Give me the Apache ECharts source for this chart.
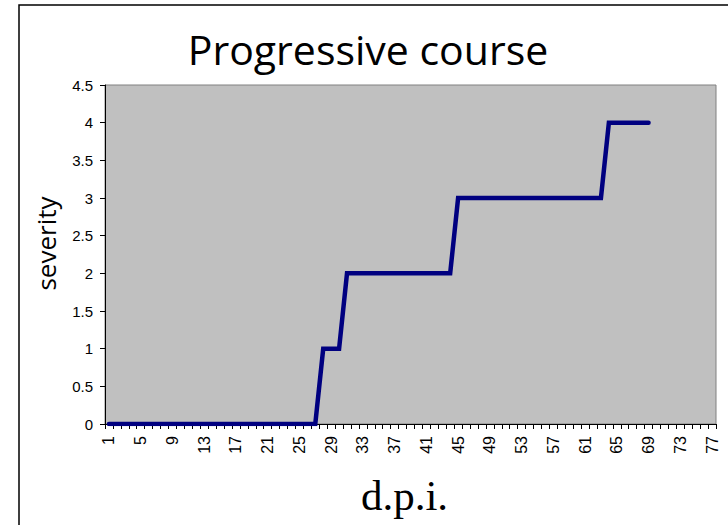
<!DOCTYPE html>
<html>
<head>
<meta charset="utf-8">
<script src="https://cdn.jsdelivr.net/npm/echarts@6/dist/echarts.min.js"></script>
<style>
  html, body { margin: 0; padding: 0; background: #fff; }
  #chart { width: 728px; height: 525px; }
</style>
</head>
<body>
<div id="chart"></div>
<script>
// Days post infection (category axis, 1..77)
const days = [
  '1','2','3','4','5','6','7','8','9','10','11','12','13','14','15','16','17','18','19','20',
  '21','22','23','24','25','26','27','28','29','30','31','32','33','34','35','36','37','38','39','40',
  '41','42','43','44','45','46','47','48','49','50','51','52','53','54','55','56','57','58','59','60',
  '61','62','63','64','65','66','67','68','69','70','71','72','73','74','75','76','77'
];

// Disease severity score recorded for days 1..69
const severity = [
  0,0,0,0,0,0,0,0,0,0,0,0,0,0,0,0,0,0,0,0,0,0,0,0,0,0,0,
  1,1,1,
  2,2,2,2,2,2,2,2,2,2,2,2,2,2,
  3,3,3,3,3,3,3,3,3,3,3,3,3,3,3,3,3,3,3,
  4,4,4,4,4,4
];

// Y axis range and step
const yMin = 0, yMax = 4.5, yStep = 0.5;

const chart = echarts.init(document.getElementById('chart'), null, { renderer: 'svg' });

chart.setOption({
  animation: false,
  backgroundColor: '#ffffff',
  title: {
    text: 'Progressive course',
    left: 368,
    textAlign: 'center',
    top: 28,
    textStyle: {
      fontFamily: 'Open Sans',
      fontWeight: 'normal',
      fontSize: 41,
      color: '#000'
    },
    padding: 0
  },
  graphic: [{
    type: 'rect',
    shape: { x: 19, y: 5, width: 760, height: 560 },
    style: { fill: 'none', stroke: '#000', lineWidth: 1.5 },
    silent: true,
    z: -1
  }],
  grid: {
    left: 105,
    right: 12,
    top: 85,
    bottom: 101,
    outerBoundsMode: 'none',
    containLabel: false,
    show: true,
    backgroundColor: '#C0C0C0',
    borderColor: '#808080',
    borderWidth: 1
  },
  xAxis: {
    type: 'category',
    data: days,
    boundaryGap: true,
    name: 'd.p.i.',
    nameLocation: 'middle',
    nameGap: 50,
    nameTextStyle: {
      fontFamily: 'Liberation Serif',
      fontSize: 43,
      color: '#000',
      padding: [0, 12, 0, 0]
    },
    axisLine: { lineStyle: { color: '#000', width: 1 } },
    axisTick: { show: true, interval: 0, length: 5, lineStyle: { color: '#000' } },
    axisLabel: {
      interval: 3,
      rotate: 90,
      margin: 12,
      fontFamily: 'Liberation Sans',
      fontSize: 16,
      color: '#000'
    },
    splitLine: { show: false }
  },
  yAxis: {
    type: 'value',
    min: yMin,
    max: yMax,
    interval: yStep,
    name: 'severity',
    nameLocation: 'middle',
    nameGap: 46,
    nameRotate: 90,
    nameTextStyle: {
      fontFamily: 'Open Sans',
      fontSize: 26,
      color: '#000',
      padding: [0, 0, 0, 22]
    },
    axisLine: { show: true, lineStyle: { color: '#000', width: 1 } },
    axisTick: { show: true, length: 5, lineStyle: { color: '#000' } },
    axisLabel: {
      margin: 12,
      fontFamily: 'Liberation Sans',
      fontSize: 15,
      color: '#000'
    },
    splitLine: { show: false }
  },
  series: [{
    type: 'line',
    data: severity,
    showSymbol: false,
    symbol: 'none',
    lineStyle: { color: '#000080', width: 4.5, join: 'miter', cap: 'round' },
    z: 3
  }]
});
</script>
</body>
</html>
